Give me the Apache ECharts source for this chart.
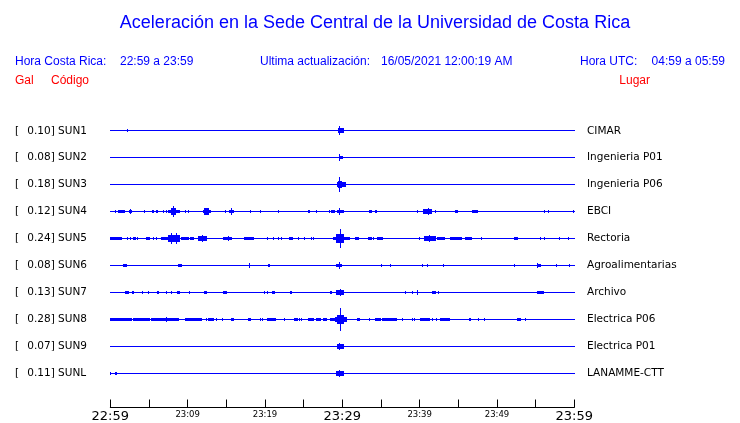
<!DOCTYPE html>
<html>
<head>
<meta charset="utf-8">
<script src="https://cdn.jsdelivr.net/npm/echarts@6/dist/echarts.min.js"></script>
<style>
html,body{margin:0;padding:0;background:#fff;}
#chart{width:740px;height:423px;}
</style>
</head>
<body>
<div id="chart"></div>
<script>
// ---------- DATA ----------
const stations = ['SUN1','SUN2','SUN3','SUN4','SUN5','SUN6','SUN7','SUN8','SUN9','SUNL'];
const galValues = ['0.10','0.08','0.18','0.12','0.24','0.08','0.13','0.28','0.07','0.11'];
const places = ['CIMAR','Ingenieria P01','Ingenieria P06','EBCI','Rectoria','Agroalimentarias','Archivo','Electrica P06','Electrica P01','LANAMME-CTT'];
const tickLabels = ['22:59','','23:09','','23:19','','23:29','','23:39','','23:49','','23:59'];
const majorTickLabels = ['22:59','23:29','23:59'];

// events: [startMinute, endMinute, relative amplitude]  (minutes after 22:59)
const sun1Events = [[2.2,2.2,1.5],[29.45,30.1,2.5],[29.7,29.7,4.5]];
const sun2Events = [[29.7,29.7,4],[29.7,30.0,2]];
const sun3Events = [[29.35,30.35,3],[29.55,29.9,4],[29.7,29.7,8]];
const sun4Events = [[0.61,0.61,1.5],[1.03,1.9,1.5],[2.46,2.77,2],[2.6,2.6,3],[4.4,4.4,1.5],[5.43,5.65,1.5],[6.0,6.13,1.5],[6.85,6.85,1.5],[7.29,7.29,1.5],[7.5,8.92,2],[7.85,8.37,4],[8.11,8.11,6],[9.66,9.66,1.5],[10.09,10.09,1.5],[11.99,12.98,2],[12.2,12.7,3.5],[12.38,12.38,4],[14.92,14.92,1.5],[15.39,15.91,2],[15.61,15.61,3.5],[18.07,18.07,2],[19.45,19.45,1.5],[21.72,21.72,1.5],[25.6,25.7,2],[26.69,26.69,1.5],[28.32,28.32,1.5],[28.63,28.93,2],[29.35,30.13,2],[29.7,29.7,4],[31.51,31.51,1],[32.07,32.07,1],[33.58,33.8,2],[34.23,34.23,1.5],[34.45,34.45,1.5],[39.1,39.1,1],[39.7,39.7,1.5],[40.48,41.56,2.5],[41.12,41.12,4],[42.03,42.03,1.5],[44.58,44.87,2],[46.86,47.51,2],[52.76,52.76,1],[56.12,56.12,1.5],[56.64,56.64,1.5],[59.96,59.96,2]];
const sun5Events = [[0,1.47,2],[2.2,2.2,1.5],[2.55,2.55,1.5],[2.97,3.32,1.5],[3.49,3.49,1.5],[3.93,3.93,1],[4.71,5.13,1.5],[5.56,5.56,1.5],[6.0,6.0,1.5],[6.56,7.5,2],[7.5,9.01,3.5],[7.85,7.85,6],[8.5,8.5,6],[9.23,10.09,2],[10.4,10.73,1.5],[11.38,12.38,2.5],[11.9,11.9,4],[14.7,15.7,2],[15.22,15.22,3],[17.29,18.49,2],[20.35,20.35,1.5],[21.08,21.08,1.5],[21.72,21.72,1.5],[22.16,22.16,1.5],[23.11,23.59,1.5],[24.31,24.31,1.5],[25.09,25.09,1.5],[26.04,26.04,1.5],[26.25,26.25,1.5],[27.76,27.76,1],[28.9,30.65,2],[29.25,30.13,4.5],[29.77,29.77,10],[30.57,30.87,2],[31.77,32.07,1.5],[32.72,32.72,1],[33.36,33.8,1.5],[34.01,34.01,1.5],[34.53,35.23,2],[36.6,36.6,1],[37.89,37.89,1],[38.76,38.76,1],[39.18,39.18,1],[39.96,39.96,1.5],[40.6,42.11,2.5],[41.34,41.34,4],[42.29,43.28,2],[44.02,45.44,2],[45.87,46.73,2],[48.03,48.03,1.5],[50.17,50.17,1],[52.33,52.63,1.5],[53.63,53.63,1],[55.66,55.66,1.5],[56.21,56.21,1.5],[57.73,57.73,1],[58.15,58.15,1.5],[59.23,59.23,1.5]];
const sun6Events = [[1.68,2.12,2],[4.4,4.4,1],[8.88,9.23,2],[13.67,13.67,1],[17.97,17.97,3],[20.43,20.43,1.5],[20.65,20.65,1.5],[24.44,24.44,1],[29.28,29.92,2],[29.64,29.64,4],[35.1,35.1,1.5],[36.26,36.26,1.5],[40.35,40.35,1.5],[40.99,40.99,1.5],[43.06,43.06,1.5],[52.24,52.24,1.5],[55.27,55.57,2],[55.3,55.3,3],[57.64,57.64,1.5],[59.32,59.32,1.5]];
const sun7Events = [[2.03,2.38,2],[2.81,2.97,2],[4.19,4.19,1.5],[4.91,4.91,1.5],[6.08,6.26,2],[7.29,7.29,1.5],[7.94,7.94,1.5],[8.66,8.92,2],[10.22,10.22,1.5],[12.16,12.38,2],[14.7,15.05,2],[19.91,19.91,1.5],[20.35,20.35,1.5],[21.0,21.26,2],[23.24,23.46,2],[28.41,28.63,2],[29.28,30.13,3],[29.74,29.74,4],[35.23,35.23,1],[38.11,38.11,1.5],[39.05,39.05,1.5],[39.7,39.7,3],[41.64,41.99,2],[42.41,42.41,1.5],[49.88,49.88,1],[55.27,55.99,2]];
const sun8Events = [[0,2.77,1.5],[2.97,5.13,1.5],[5.35,7.2,1.5],[7.29,7.29,3],[7.37,8.88,1.5],[9.66,11.82,1.5],[12.38,12.38,1.5],[12.67,12.67,1.5],[12.89,13.32,1.5],[13.76,13.76,1.5],[14.48,14.48,1.5],[15.61,15.91,1.5],[17.85,18.16,2],[19.36,19.36,1.5],[19.66,19.66,1.5],[20.35,21.3,1.5],[22.59,22.59,1.5],[23.88,24.18,1.5],[24.53,24.53,1.5],[24.75,24.75,1.5],[25.6,26.25,1.5],[26.69,27.12,1.5],[27.54,27.98,1.5],[28.5,28.5,1.5],[28.63,28.93,1.5],[29.06,30.57,2.5],[29.35,30.13,5],[29.77,29.77,12],[31.94,32.2,1.5],[33.49,33.49,1.5],[34.23,34.88,2],[35.17,37.04,2],[37.81,37.81,1.5],[39.1,39.1,1.5],[39.4,39.4,1.5],[40.14,41.25,2],[41.69,41.69,1.5],[42.12,42.12,1.5],[42.73,43.71,2],[43.84,43.84,1.5],[46.42,46.42,1.5],[46.61,46.61,1.5],[47.59,47.59,1.5],[48.33,48.33,1.5],[52.68,52.98,2],[53.63,53.63,1.5],[57.21,57.21,1]];
const sun9Events = [[29.4,30.1,2.5],[29.7,29.7,4]];
const sunlEvents = [[0.06,0.06,1.5],[0.61,0.83,2],[6.0,6.0,1],[11.51,11.51,1],[29.3,30.13,3],[29.7,29.7,4],[40.7,40.7,1]];

const stationEvents = [sun1Events,sun2Events,sun3Events,sun4Events,sun5Events,sun6Events,sun7Events,sun8Events,sun9Events,sunlEvents];
const windowMinutes = [0, 60];

// ---------- CHART ----------
const BLUE = '#0000ff', RED = '#ff0000';
const AMP_REF = 27; // amplitude units per trace spacing

const traceData = [];
stations.forEach((s, i) => {
  traceData.push([i, windowMinutes[0], windowMinutes[1], 0]);
  stationEvents[i].forEach(e => traceData.push([i, e[0], e[1], e[2]]));
});

function renderItem(params, api) {
  const idx = api.value(0), t0 = api.value(1), t1 = api.value(2), amp = api.value(3);
  const p0 = api.coord([t0, idx]);
  const p1 = api.coord([t1, idx]);
  const band = api.size([0, 1])[1];
  const a = Math.floor(amp * band / AMP_REF);
  const x0 = Math.floor(p0[0]);
  const w = Math.max(1, Math.ceil(p1[0]) - x0);
  const yc = Math.floor(p0[1]);
  return { type: 'rect', shape: { x: x0, y: yc - a, width: w, height: 2 * a + 1 }, style: { fill: BLUE } };
}

const chart = echarts.init(document.getElementById('chart'), null, { renderer: 'canvas' });
const headFont = '"Liberation Sans", Arial, sans-serif';
const labelFont = '"DejaVu Sans", sans-serif';

chart.setOption({
  animation: false,
  backgroundColor: '#fff',
  graphic: [
    { type: 'text', x: 375, y: 23, style: { text: 'Aceleración en la Sede Central de la Universidad de Costa Rica', fill: BLUE, font: '18px ' + headFont, textAlign: 'center', textVerticalAlign: 'middle' } },
    { type: 'text', x: 15, y: 62, style: { text: 'Hora Costa Rica:', fill: BLUE, font: '12px ' + headFont, textAlign: 'left', textVerticalAlign: 'middle' } },
    { type: 'text', x: 120, y: 62, style: { text: '22:59 a 23:59', fill: BLUE, font: '12px ' + headFont, textAlign: 'left', textVerticalAlign: 'middle' } },
    { type: 'text', x: 260, y: 62, style: { text: 'Ultima actualización:', fill: BLUE, font: '12px ' + headFont, textAlign: 'left', textVerticalAlign: 'middle' } },
    { type: 'text', x: 381, y: 62, style: { text: '16/05/2021 12:00:19 AM', fill: BLUE, font: '12px ' + headFont, textAlign: 'left', textVerticalAlign: 'middle' } },
    { type: 'text', x: 580, y: 62, style: { text: 'Hora UTC:', fill: BLUE, font: '12px ' + headFont, textAlign: 'left', textVerticalAlign: 'middle' } },
    { type: 'text', x: 725, y: 62, style: { text: '04:59 a 05:59', fill: BLUE, font: '12px ' + headFont, textAlign: 'right', textVerticalAlign: 'middle' } },
    { type: 'text', x: 15, y: 81, style: { text: 'Gal', fill: RED, font: '12px ' + headFont, textAlign: 'left', textVerticalAlign: 'middle' } },
    { type: 'text', x: 51, y: 81, style: { text: 'Código', fill: RED, font: '12px ' + headFont, textAlign: 'left', textVerticalAlign: 'middle' } },
    { type: 'text', x: 650, y: 81, style: { text: 'Lugar', fill: RED, font: '12px ' + headFont, textAlign: 'right', textVerticalAlign: 'middle' } }
  ],
  grid: { left: 110.3, right: 165.7, top: 117.3, height: 272.2, containLabel: false },
  xAxis: {
    type: 'value', min: 0, max: 60, interval: 5, position: 'bottom', offset: 20.5,
    axisLine: { show: true, lineStyle: { color: '#000', width: 1 } },
    axisTick: { show: true, inside: true, length: 8, lineStyle: { color: '#000', width: 1 } },
    splitLine: { show: false },
    axisLabel: {
      margin: 2, showMinLabel: true, showMaxLabel: true, hideOverlap: false,
      formatter: function (v) {
        const lab = tickLabels[Math.round(v / 5)] || '';
        if (!lab) return '';
        return majorTickLabels.indexOf(lab) >= 0 ? '{big|' + lab + '}' : '{small|' + lab + '}';
      },
      rich: {
        big: { fontFamily: labelFont, fontSize: 13, color: '#000', lineHeight: 14 },
        small: { fontFamily: labelFont, fontSize: 8.5, color: '#000', lineHeight: 10 }
      }
    }
  },
  yAxis: [
    {
      type: 'category', data: stations, inverse: true, position: 'left',
      axisLine: { show: false }, axisTick: { show: false }, splitLine: { show: false },
      axisLabel: {
        margin: 95.3, align: 'left', interval: 0,
        formatter: function (v, i) { return '{br|[}{v|' + galValues[i] + '] ' + v + '}'; },
        rich: {
          br: { width: 12.3, fontFamily: labelFont, fontSize: 10.5, color: '#000' },
          v: { fontFamily: labelFont, fontSize: 10.5, color: '#000' }
        }
      }
    },
    {
      type: 'category', data: stations, inverse: true, position: 'right',
      axisLine: { show: false }, axisTick: { show: false }, splitLine: { show: false },
      axisLabel: {
        margin: 12.7, align: 'left', interval: 0, fontFamily: labelFont, fontSize: 10.5, color: '#000',
        formatter: function (v, i) { return places[i]; }
      }
    }
  ],
  series: [{
    type: 'custom', name: 'traces', renderItem: renderItem, data: traceData,
    encode: { x: [1, 2], y: 0 }, xAxisIndex: 0, yAxisIndex: 0, clip: false, silent: true
  }]
});
</script>
</body>
</html>
